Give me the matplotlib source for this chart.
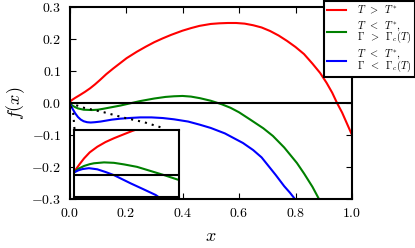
import matplotlib
matplotlib.use('Agg')
from matplotlib import pyplot as plt

plt.rcParams.update({
    'font.family': 'serif',
    'font.serif': ['cmr10'],
    'mathtext.fontset': 'cm',
    'axes.formatter.use_mathtext': True,
    'axes.linewidth': 1.5,
    'xtick.direction': 'in',
    'ytick.direction': 'in',
    'xtick.top': True,
    'ytick.right': True,
    'xtick.major.size': 4,
    'ytick.major.size': 4,
    'xtick.major.pad': 6,
    'ytick.major.pad': 6,
    'font.size': 10,
})

# main curves
x_red = [0, 0.008, 0.02, 0.037, 0.055, 0.073, 0.09, 0.108, 0.13, 0.155, 0.18, 0.202,
         0.238, 0.27, 0.3, 0.33, 0.36, 0.4, 0.43, 0.46, 0.5, 0.53, 0.56, 0.59,
         0.62, 0.65, 0.68, 0.71, 0.74, 0.77, 0.8, 0.83, 0.86, 0.887, 0.91, 0.93,
         0.947, 0.965, 0.98, 1.0]
y_red = [0.003, 0.009, 0.016, 0.025, 0.035, 0.046, 0.058, 0.072, 0.09, 0.108, 0.125, 0.14,
         0.16, 0.176, 0.19, 0.202, 0.213, 0.226, 0.234, 0.241, 0.247, 0.249, 0.25, 0.25,
         0.248, 0.243, 0.236, 0.225, 0.211, 0.194, 0.175, 0.153, 0.123, 0.094, 0.063, 0.032,
         0.0, -0.03, -0.06, -0.1]

x_green = [0, 0.01, 0.02, 0.03, 0.05, 0.08, 0.1, 0.12, 0.15, 0.18, 0.21, 0.25,
           0.3, 0.34, 0.37, 0.4, 0.43, 0.462, 0.5, 0.539, 0.57, 0.6, 0.64, 0.686,
           0.72, 0.76, 0.805, 0.83, 0.86, 0.883]
y_green = [0.0, -0.008, -0.013, -0.017, -0.021, -0.022, -0.021, -0.018, -0.013, -0.008, -0.002, 0.006,
           0.014, 0.019, 0.021, 0.022, 0.02, 0.015, 0.007, -0.004, -0.015, -0.029, -0.052, -0.079,
           -0.103, -0.139, -0.1875, -0.22, -0.262, -0.3]

x_blue = [0, 0.01, 0.02, 0.03, 0.04, 0.05, 0.062, 0.075, 0.09, 0.11, 0.13, 0.15,
          0.18, 0.21, 0.25, 0.29, 0.33, 0.37, 0.42, 0.462, 0.5, 0.55, 0.614, 0.65,
          0.68, 0.71, 0.73, 0.76, 0.78, 0.798]
y_blue = [0.0, -0.017, -0.032, -0.044, -0.052, -0.057, -0.06, -0.061, -0.06, -0.058, -0.055, -0.052,
          -0.049, -0.047, -0.045, -0.045, -0.047, -0.051, -0.058, -0.068, -0.078, -0.095, -0.125, -0.147,
          -0.17, -0.203, -0.225, -0.26, -0.28, -0.3]

x_dot_a = [0, 0.051, 0.122, 0.193, 0.264, 0.334]
y_dot_a = [0, -0.015, -0.029, -0.046, -0.06, -0.079]
x_dot_b = [0.004, 0.013, 0.016, 0.019]
y_dot_b = [-0.01, -0.032, -0.063, -0.1]

# inset (zoom near x = 0)
xi_red = [0, 0.001, 0.0025, 0.0048, 0.0075, 0.0111, 0.015, 0.019, 0.0235, 0.0278, 0.03]
yi_red = [0.001, 0.0025, 0.0045, 0.0073, 0.01, 0.0125, 0.0146, 0.0163, 0.018, 0.0196, 0.0203]
xi_green = [0, 0.002, 0.0048, 0.0075, 0.0095, 0.0143, 0.019, 0.0238, 0.03, 0.0349, 0.0429, 0.05]
yi_green = [0.001, 0.0026, 0.0039, 0.0047, 0.0051, 0.0055, 0.0053, 0.0046, 0.0035, 0.0021, -0.0002, -0.0024]
xi_blue = [0, 0.002, 0.004, 0.0071, 0.0111, 0.015, 0.019, 0.027, 0.033, 0.0389, 0.041]
yi_blue = [0.001, 0.0019, 0.0025, 0.0029, 0.0024, 0.0012, -0.0002, -0.0039, -0.0065, -0.0091, -0.0105]

labels = [r'$T\;\;>\;\;T^{*}$',
          '$T\\;\\;<\\;\\;T^{*},$\n$\\Gamma\\;\\;>\\;\\;\\Gamma_c(T)$',
          '$T\\;\\;<\\;\\;T^{*},$\n$\\Gamma\\;\\;<\\;\\;\\Gamma_c(T)$']
xticks = [0.0, 0.2, 0.4, 0.6, 0.8, 1.0]
yticks = [-0.3, -0.2, -0.1, 0.0, 0.1, 0.2, 0.3]

fig = plt.figure(figsize=(4.15, 2.48), dpi=100)
ax = fig.add_axes([0.1675, 0.1976, 0.6807, 0.7742])

ax.plot(x_red, y_red, color='r', lw=1.5, label=labels[0])
ax.plot(x_green, y_green, color='#008000', lw=1.5, label=labels[1])
ax.plot(x_blue, y_blue, color='b', lw=1.5, label=labels[2])
ax.plot(x_dot_a, y_dot_a, color='k', lw=1.5, ls=(0, (1, 2.4)))
ax.plot(x_dot_b, y_dot_b, color='k', lw=1.5, ls=(0, (1, 2.4)))
ax.axhline(0, color='k', lw=1.5)

ax.set_xlim(0, 1)
ax.set_ylim(-0.3, 0.3)
ax.set_xticks(xticks)
ax.set_yticks(yticks)
ax.set_xlabel('$x$', fontsize=13, labelpad=6)
ax.set_ylabel('$f(x)$', fontsize=13, labelpad=3)

leg = ax.legend(loc='upper right', bbox_to_anchor=(414.5 / 415, 1 - 1 / 248),
                bbox_transform=fig.transFigure, fontsize=7.5, handlelength=1.8,
                handletextpad=1.1, labelspacing=0.3, borderaxespad=0,
                borderpad=0.3, fancybox=False, framealpha=1)
leg.get_frame().set_edgecolor('k')
leg.get_frame().set_linewidth(1.5)
for t in leg.get_texts():
    t.set_linespacing(0.7)

ins = fig.add_axes([74 / 415, 51 / 248, 105 / 415, 67 / 248])
ins.plot(xi_red, yi_red, color='r', lw=1.5)
ins.plot(xi_green, yi_green, color='#008000', lw=1.5)
ins.plot(xi_blue, yi_blue, color='b', lw=1.5)
ins.axhline(0, color='k', lw=1.5)
ins.set_xlim(0, 0.05)
ins.set_ylim(-0.01, 0.02)
ins.set_xticks([])
ins.set_yticks([])

fig.savefig('out.png', dpi=100)
